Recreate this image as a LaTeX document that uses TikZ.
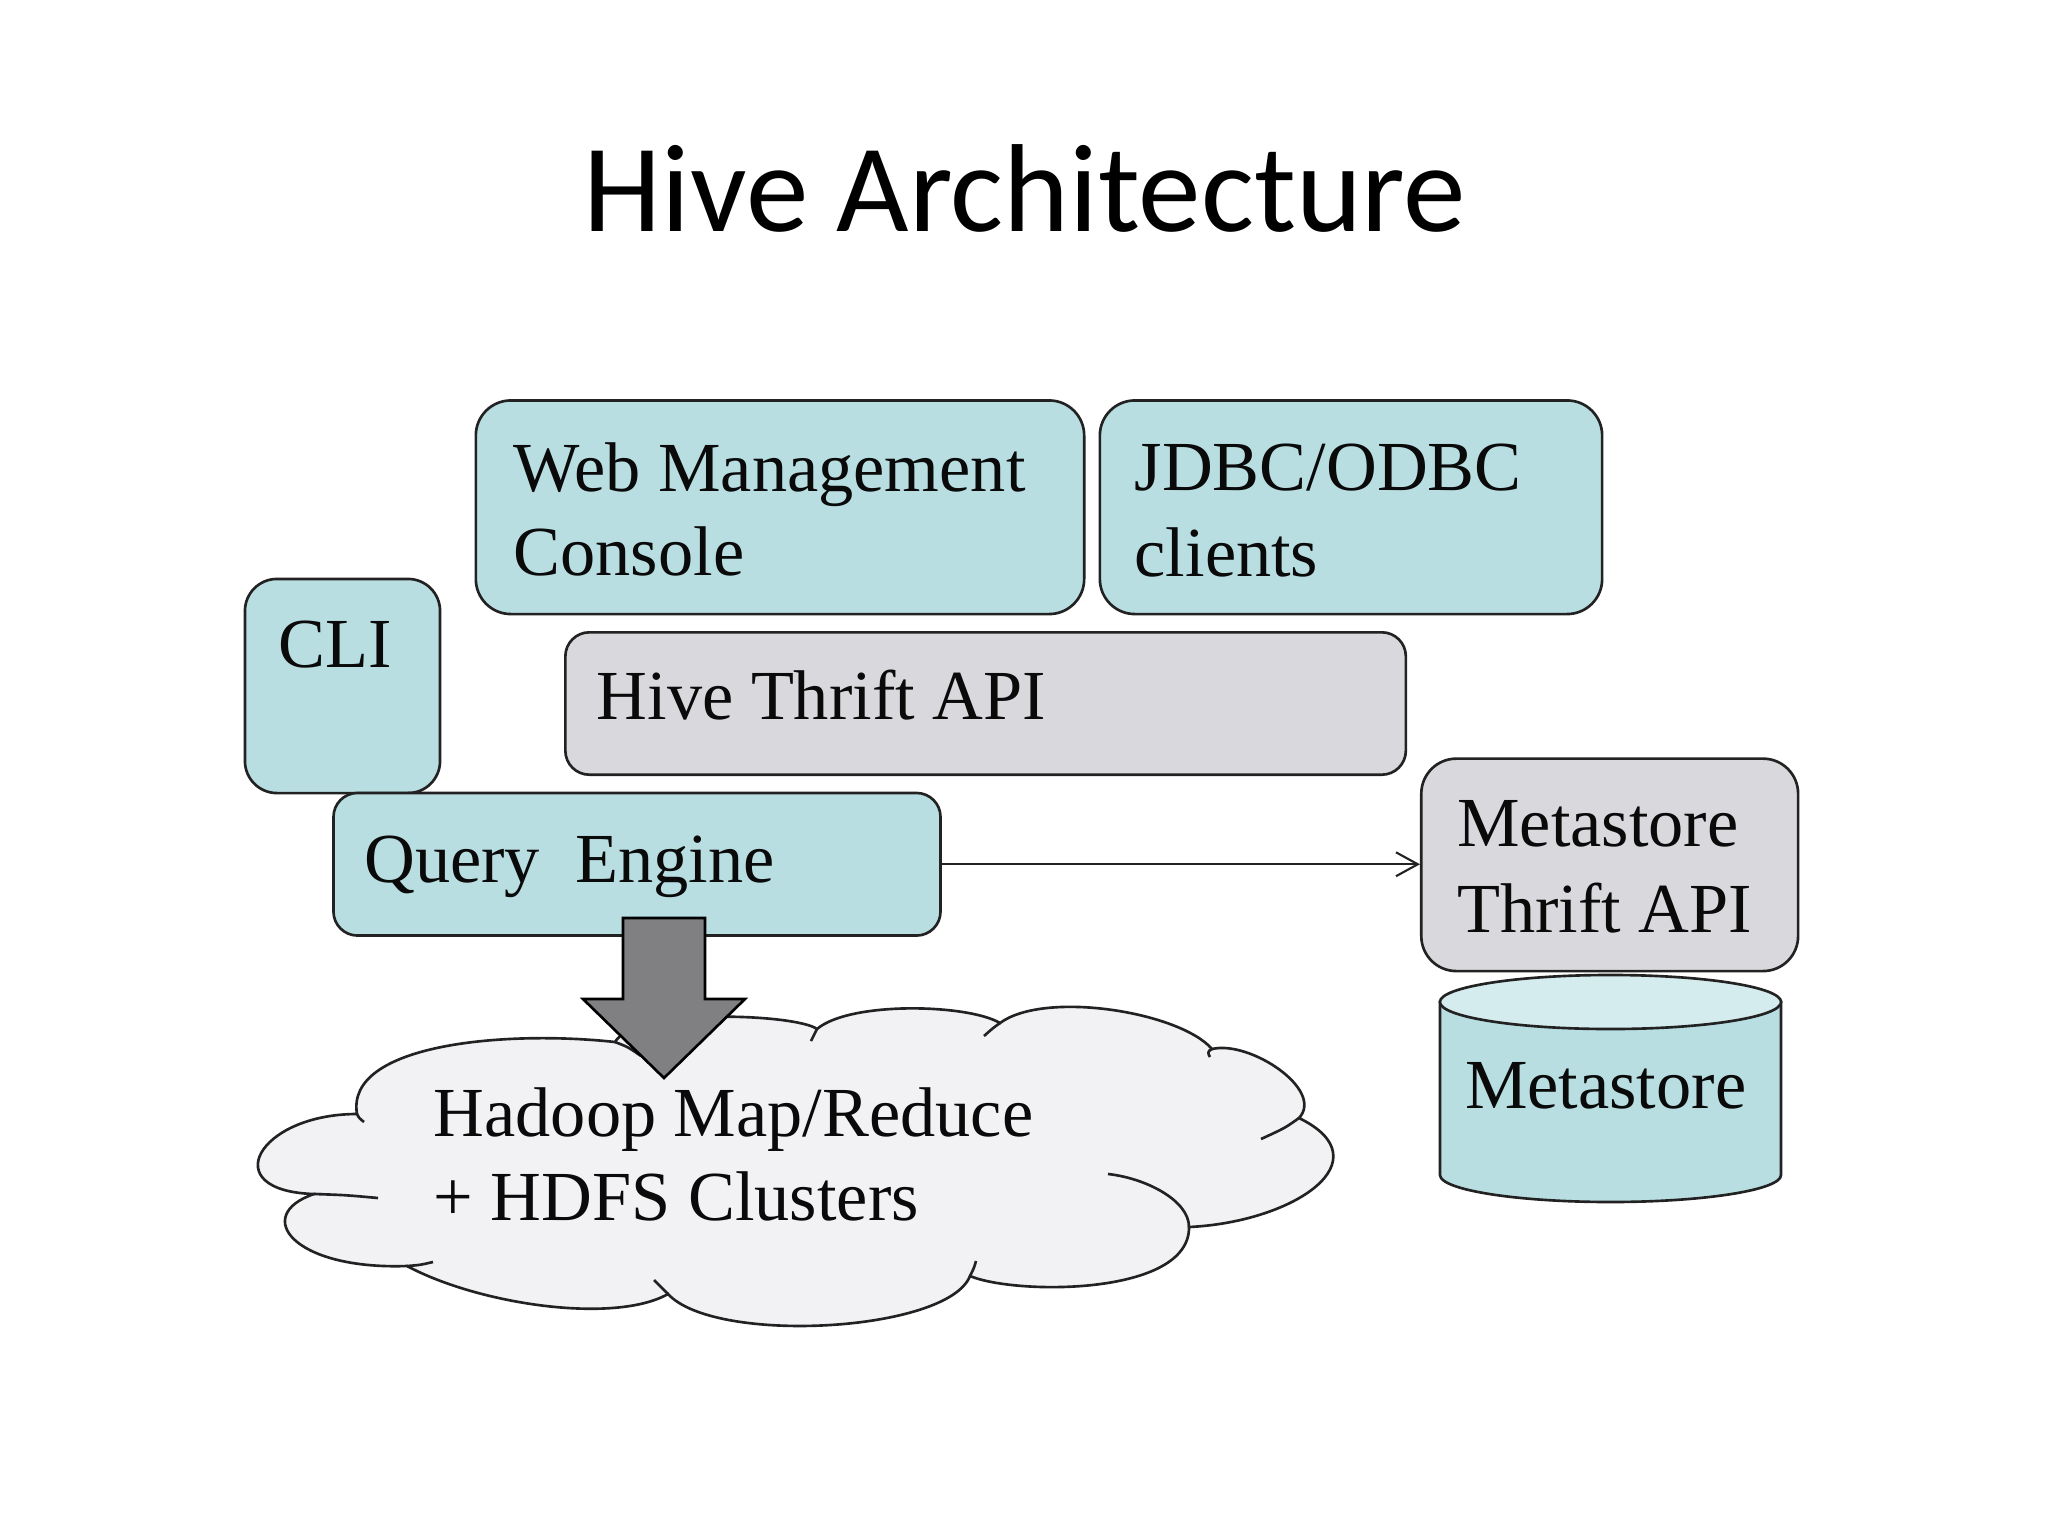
\documentclass[tikz,border=0pt]{standalone}
\usepackage{fontspec}
\setmainfont{Liberation Serif}
\newfontfamily\titlefont{Carlito}
\usetikzlibrary{arrows.meta}
\definecolor{tealfill}{RGB}{184,222,226}
\definecolor{tealtop}{RGB}{213,236,239}
\definecolor{grayfill}{RGB}{217,216,220}
\definecolor{cloudfill}{RGB}{242,242,245}
\definecolor{arrowfill}{RGB}{128,128,130}
\definecolor{edgecol}{RGB}{34,34,34}
\definecolor{textcol}{RGB}{10,10,10}
\tikzset{
  boxbase/.style={rectangle, draw=edgecol, line width=0.75pt, inner sep=0pt},
  tealbox/.style={boxbase, fill=tealfill},
  graybox/.style={boxbase, fill=grayfill},
  lbl/.style={anchor=base west, inner sep=0pt, text=textcol, font=\fontsize{20}{24}\selectfont},
  conn/.style={draw=edgecol, line width=0.6pt, -{Straight Barb[length=6.2pt,width=6.8pt]}},
  cloudline/.style={draw=edgecol, line width=0.75pt},
  blockarrow/.style={draw=black, line width=0.75pt, fill=arrowfill, line join=miter},
}
\begin{document}
\begin{tikzpicture}[x={(0.01cm,0)}, y={(0,-0.01cm)}]
\useasboundingbox (0,0) rectangle (2048,1536);
\fill[white] (0,0) rectangle (2048,1536);

% title
\node[anchor=base, inner sep=0pt, font=\titlefont\fontsize{35.6}{42}\selectfont] (title) at (1025,231) {Hive Architecture};

% boxes
\node[tealbox, rounded corners=0.35cm, minimum width=6.08cm, minimum height=2.135cm] (web) at (780,507.25) {};
\node[tealbox, rounded corners=0.35cm, minimum width=5.02cm, minimum height=2.135cm] (jdbc) at (1351,507.25) {};
\node[tealbox, rounded corners=0.32cm, minimum width=1.95cm, minimum height=2.14cm] (cli) at (342.5,686) {};
\node[graybox, rounded corners=0.24cm, minimum width=8.40cm, minimum height=1.423cm] (hta) at (985.6,703.5) {};
\node[tealbox, rounded corners=0.24cm, minimum width=6.067cm, minimum height=1.425cm] (qe) at (637,864.25) {};
\node[graybox, rounded corners=0.35cm, minimum width=3.766cm, minimum height=2.123cm] (mta) at (1609.7,864.85) {};

% cloud
\path[cloudline, fill=cloudfill] (357,1114)
  .. controls (258,1114) and (215,1191) .. (314,1194)
  .. controls (252,1215) and (292,1270) .. (407,1266)
  .. controls (480,1305) and (615,1324) .. (668,1294)
  .. controls (715,1345) and (948,1332) .. (970,1276)
  .. controls (1015,1295) and (1190,1296) .. (1189,1227)
  .. controls (1295,1222) and (1385,1160) .. (1299,1118)
  .. controls (1325,1090) and (1250,1040) .. (1212,1049)
  .. controls (1180,1012) and (1045,990) .. (1000,1023)
  .. controls (968,1004) and (850,1001) .. (817,1029)
  .. controls (797,1014) and (635,1007) .. (615,1042)
  .. controls (505,1030) and (345,1044) .. (357,1114)
  -- cycle;
% inner arcs of the cloud
\draw[cloudline] (357,1114) .. controls (359,1118) .. (364,1122);
\draw[cloudline] (314,1194) .. controls (345,1195) .. (378,1198);
\draw[cloudline] (407,1266) .. controls (420,1265) .. (433,1262);
\draw[cloudline] (654,1280) .. controls (661,1286) .. (668,1294);
\draw[cloudline] (970,1276) .. controls (974,1268) .. (976,1261);
\draw[cloudline] (1189,1227) .. controls (1189,1200) and (1145,1178) .. (1108,1174);
\draw[cloudline] (1299,1118) .. controls (1285,1128) .. (1261,1139);
\draw[cloudline] (1212,1049) .. controls (1207,1051) and (1208,1054) .. (1210,1057);
\draw[cloudline] (1000,1023) .. controls (993,1028) .. (984,1036);
\draw[cloudline] (817,1029) .. controls (814,1035) .. (811,1041);
\draw[cloudline] (615,1042) .. controls (628,1047) .. (641,1056);

% block arrow from query engine to cloud
\path[blockarrow] (623,918) -- (705,918) -- (705,999) -- (745,999) -- (664,1078) -- (583,999) -- (623,999) -- cycle;

% metastore cylinder
\path[draw=edgecol, line width=0.75pt, fill=tealfill] (1440,1002) -- (1440,1175)
  .. controls (1440,1189.9) and (1516.3,1202) .. (1610.5,1202)
  .. controls (1704.7,1202) and (1781,1189.9) .. (1781,1175)
  -- (1781,1002) -- cycle;
\draw[draw=edgecol, line width=0.75pt, fill=tealtop] (1610.5,1002) ellipse [x radius=1.705cm, y radius=0.27cm];

% connector
\draw[conn] (qe.east) -- (qe.east -| mta.west);

% labels
\node[lbl] (tweb1) at (513,491.6) {Web Management};
\node[lbl] (tweb2) at (513,575.8) {Console};
\node[lbl] (tjdbc1) at (1134,490.6) {JDBC/ODBC};
\node[lbl] (tjdbc2) at (1134,576.7) {clients};
\node[lbl] (tcli) at (277.5,667.6) {CLI};
\node[lbl] (thta) at (596,719.3) {Hive Thrift API};
\node[lbl] (tqe) at (363.6,882) {Query\ \ Engine};
\node[lbl] (tmta1) at (1456.6,846.5) {Metastore};
\node[lbl] (tmta2) at (1456.6,932.6) {Thrift API};
\node[lbl] (tms) at (1464.3,1108.8) {Metastore};
\node[lbl] (thad1) at (433,1136) {Hadoop Map/Reduce};
\node[lbl] (thad2) at (433,1220) {+ HDFS Clusters};
\end{tikzpicture}
\end{document}
